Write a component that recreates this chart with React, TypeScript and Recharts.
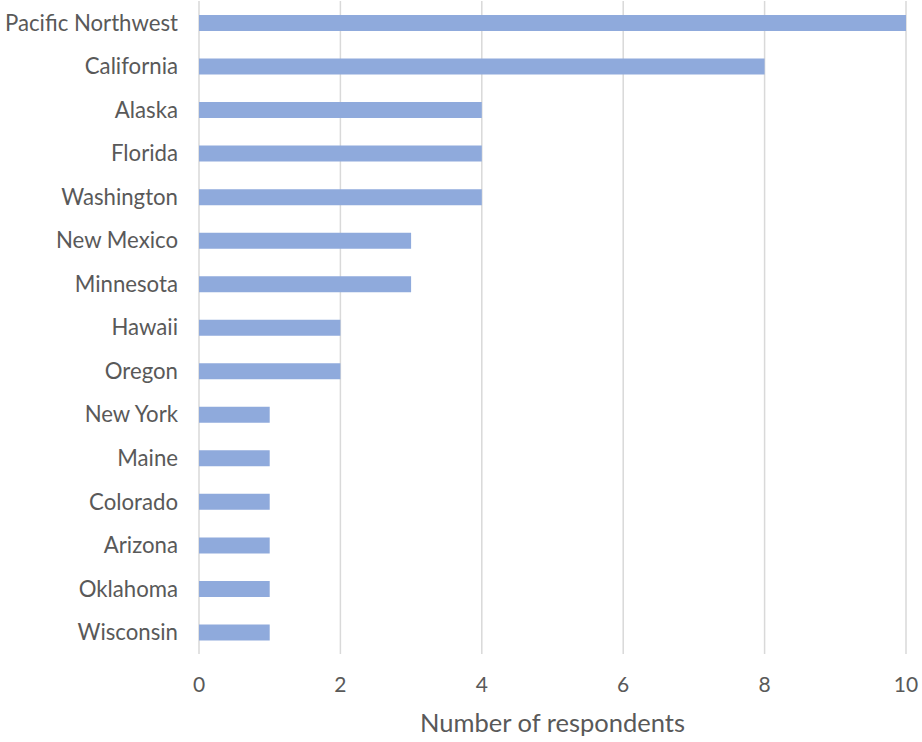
import { BarChart, Bar, XAxis, YAxis, CartesianGrid } from "recharts";

const regions = [
  "Pacific Northwest", "California", "Alaska", "Florida", "Washington",
  "New Mexico", "Minnesota", "Hawaii", "Oregon", "New York",
  "Maine", "Colorado", "Arizona", "Oklahoma", "Wisconsin",
];
const respondents = [10, 8, 4, 4, 4, 3, 3, 2, 2, 1, 1, 1, 1, 1, 1];
const xTicks = [0, 2, 4, 6, 8, 10];

const data = regions.map((name, i) => ({ name, value: respondents[i] }));

const FONT = "Lato, 'Open Sans', sans-serif";
const TEXT = "#595959";

export default function App() {
  return (
    <div style={{ position: "absolute", left: 0, top: 0, width: 922, height: 742, background: "#fff" }}>
      <BarChart
        width={922}
        height={742}
        data={data}
        layout="vertical"
        margin={{ top: 1, right: 16, bottom: 0, left: 0 }}
      >
        <CartesianGrid horizontal={false} stroke="#D9D9D9" strokeWidth={1.5} />
        <XAxis
          type="number"
          domain={[0, 10]}
          ticks={xTicks}
          axisLine={false}
          tickLine={false}
          tickMargin={17}
          height={88}
          tick={{ fill: TEXT, fontSize: 21, fontFamily: FONT }}
          label={{
            value: "Number of respondents",
            position: "insideBottom",
            offset: 10,
            fill: TEXT,
            fontSize: 25.5,
            fontFamily: FONT,
          }}
        />
        <YAxis
          type="category"
          dataKey="name"
          width={199}
          axisLine={false}
          tickLine={false}
          tickMargin={15}
          interval={0}
          tick={{ fill: TEXT, fontSize: 22.2, fontFamily: FONT }}
        />
        <Bar dataKey="value" fill="#8FAADC" barSize={16} isAnimationActive={false} />
      </BarChart>
    </div>
  );
}
